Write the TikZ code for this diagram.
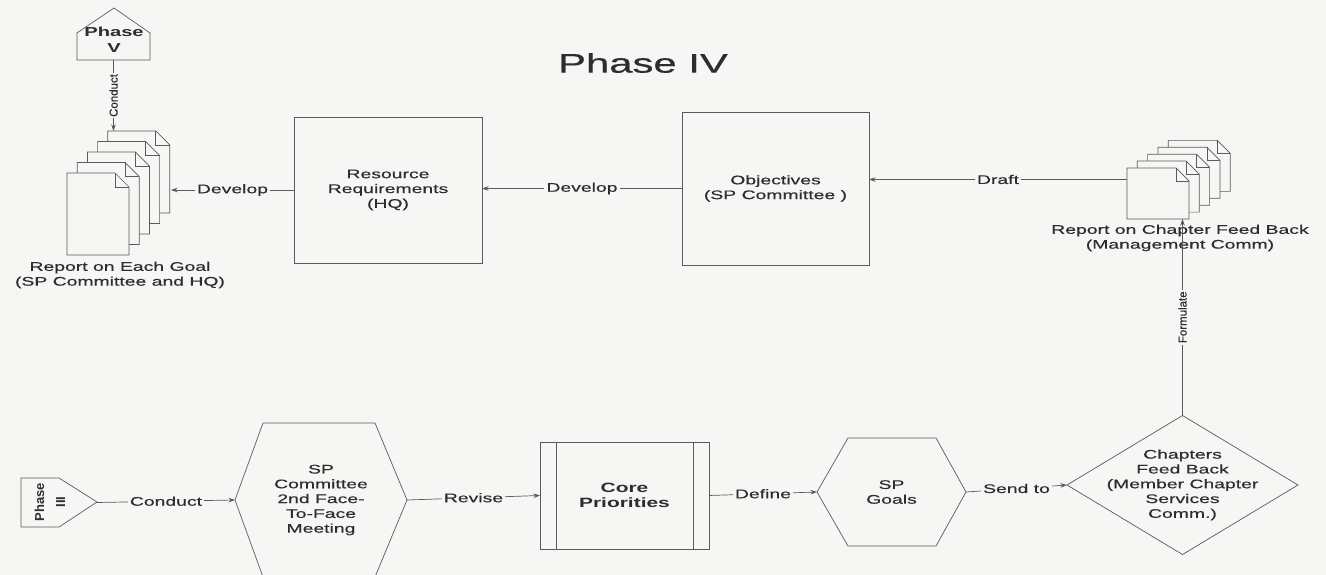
\documentclass[tikz,border=0pt]{standalone}
\usepackage{fontspec}
\setmainfont{Liberation Sans}[FakeStretch=1.55, UprightFeatures={FakeBold=0.5}]
\newfontfamily\vertfont{Liberation Sans}[UprightFeatures={FakeBold=0.5}]
\usetikzlibrary{calc,arrows.meta}
\definecolor{bg}{RGB}{246,246,244}
\definecolor{ln}{RGB}{90,90,90}
\definecolor{tx}{RGB}{45,45,45}

\begin{document}
\begin{tikzpicture}[x=1pt,y=-1pt,
  every node/.style={outer sep=0pt, text=tx, font=\fontsize{12.5}{14.8}\selectfont},
  shapebox/.style={draw=ln, fill=bg, line width=0.7pt, inner sep=0pt, align=center},
  frame/.style={inner sep=0pt, align=center},
  outline/.style={draw=ln, line width=0.7pt},
  conn/.style={draw=ln, line width=0.7pt, -{Stealth[length=6.5pt,width=4.5pt]}},
  lbl/.style={fill=bg, inner sep=2pt},
  vlbl/.style={fill=bg, inner sep=1.5pt, rotate=90, font=\vertfont\fontsize{11.5}{13}\selectfont},
]
% page background
\fill[bg] (0,0) rectangle (1326,575);
\useasboundingbox (0,0) rectangle (1326,575);

% title
\node (title) at (643,63) {\fontsize{27}{30}\selectfont Phase IV};

% ---------- top row ----------
% Phase V off-page connector
\draw[outline, fill=bg] (77,60) -- (77,33) -- (114,8) -- (150,33) -- (150,60) -- cycle;
\node[frame, minimum width=73, minimum height=27] (pv) at (113.5,46.5) {};
\node[font=\bfseries\fontsize{13}{15.5}\selectfont, align=center] (pvtext) at (114,40) {Phase\\V};

% stack of reports (left)
\foreach \i in {4,3,2,1,0} {
  \pgfmathsetmacro\l{67+10.2*\i}
  \pgfmathsetmacro\t{173-10.5*\i}
  \draw[outline, fill=bg] (\l,\t) -- ++(48,0) -- ++(14,14) -- ++(0,68) -- ++(-62,0) -- cycle;
  \draw[outline] (\l+48,\t) -- ++(0,14) -- ++(14,0);
}
\node[frame, minimum width=104, minimum height=124] (rep1) at (119,193) {};
\node[align=center] (rep1lbl) at (120,275) {Report on Each Goal\\(SP Committee and HQ)};

% stack of reports (right)
\foreach \i in {4,3,2,1,0} {
  \pgfmathsetmacro\l{1127+10.3*\i}
  \pgfmathsetmacro\t{168-6.9*\i}
  \draw[outline, fill=bg] (\l,\t) -- ++(49,0) -- ++(13,13) -- ++(0,38) -- ++(-62,0) -- cycle;
  \draw[outline] (\l+49,\t) -- ++(0,13) -- ++(13,0);
}
\node[frame, minimum width=105, minimum height=79] (rep2) at (1179.5,179.5) {};
\node[align=center] (rep2lbl) at (1180,238) {Report on Chapter Feed Back\\(Management Comm)};

% process boxes
\node[shapebox, minimum width=188, minimum height=146] (res) at (388,190) {Resource\\Requirements\\(HQ)};
\node[shapebox, minimum width=187, minimum height=153] (obj) at (775.5,188.5) {Objectives\\(SP Committee )};

% ---------- bottom row ----------
% Phase III off-page connector
\draw[outline, fill=bg] (21,478) -- (59,478) -- (97,502) -- (59,527) -- (21,527) -- cycle;
\node[frame, minimum width=76, minimum height=49] (p3) at (59,502.5) {};
\node[rotate=90, align=center, font=\vertfont\bfseries\fontsize{13}{21}\selectfont] (p3text) at (50,502) {Phase\\III};

% committee meeting (hexagon)
\node[frame, minimum width=172, minimum height=154] (h1) at (321,500) {SP\\Committee\\2nd Face-\\To-Face\\Meeting};
\draw[outline] (h1.west) -- ($(h1.north west)+(28,0)$) -- ($(h1.north east)+(-32,0)$) -- (h1.east)
  -- ($(h1.south east)+(-32,0)$) -- ($(h1.south west)+(28,0)$) -- cycle;

% core priorities (predefined process)
\node[shapebox, minimum width=169, minimum height=107, font=\bfseries\fontsize{13.5}{15}\selectfont] (core) at (624.5,495.5) {Core\\Priorities};
\draw[outline] ($(core.north west)+(16,0)$) -- ($(core.south west)+(16,0)$);
\draw[outline] ($(core.north east)+(-16,0)$) -- ($(core.south east)+(-16,0)$);

% SP goals (hexagon)
\node[frame, minimum width=149, minimum height=108] (sg) at (891.5,492) {SP\\Goals};
\draw[outline] (sg.west) -- ($(sg.north west)+(31,0)$) -- ($(sg.north east)+(-30,0)$) -- (sg.east)
  -- ($(sg.south east)+(-30,0)$) -- ($(sg.south west)+(31,0)$) -- cycle;

% chapters feedback (decision)
\node[frame, minimum width=231, minimum height=139] (dia) at (1182.5,485) {Chapters\\Feed Back\\(Member Chapter\\Services\\Comm.)};
\draw[outline] (dia.west) -- (dia.north) -- (dia.east) -- (dia.south) -- cycle;

% ---------- connectors ----------
\draw[conn] (pv.south) -- node[vlbl] (lconduct1) {Conduct} (pv.south |- rep1.north);
\draw[conn] (res.west) -- node[lbl] (ldev1) {Develop} (res.west -| rep1.east);
\draw[conn] (obj.west) -- node[lbl] (ldev2) {Develop} (obj.west -| res.east);
\draw[conn] (rep2.west) -- node[lbl] (ldraft) {Draft} (rep2.west -| obj.east);
\draw[conn] (dia.north) -- node[vlbl] (lform) {Formulate} (dia.north |- rep2.south);

\draw[conn] (p3.east) -- node[lbl] (lconduct2) {Conduct} (h1.west);
\draw[conn] (h1.east) -- node[lbl] (lrevise) {Revise} (core.west);
\draw[conn] (core.east) -- node[lbl] (ldefine) {Define} (sg.west);
\draw[conn] (sg.east) -- node[lbl] (lsend) {Send to} (dia.west);
\end{tikzpicture}
\end{document}
